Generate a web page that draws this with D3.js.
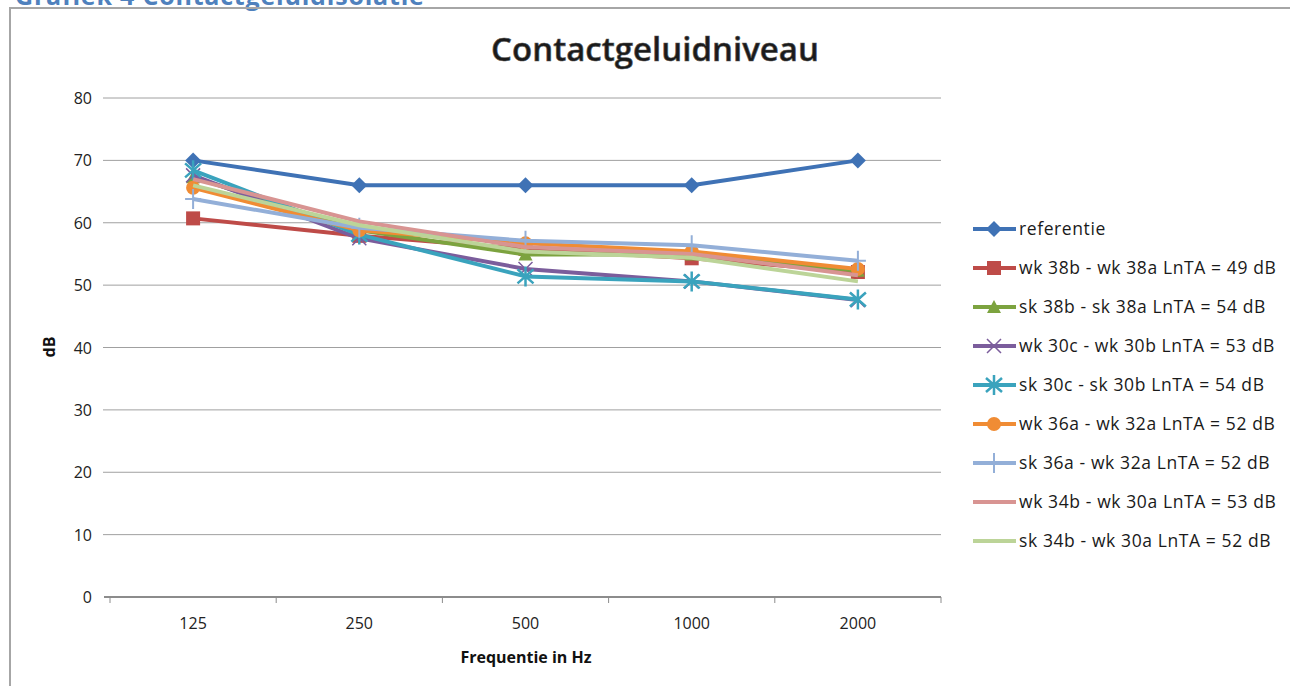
<!DOCTYPE html>
<html lang="nl">
<head>
  <meta charset="UTF-8" />
  <title>Contactgeluidniveau</title>
  <style>
    *{margin:0;padding:0;box-sizing:border-box}
    body{background:#fff;font-family:"Open Sans",sans-serif;width:1290px;height:686px;overflow:hidden}
    svg{display:block}
  </style>
</head>
<body>
  <svg id="chart" width="1290" height="686"></svg>

  <script src="https://d3js.org/d3.v7.min.js"></script>
  <script>
    // frequencies on the x axis
    const freqs = ['125','250','500','1000','2000'];
    const yTicks = [0,10,20,30,40,50,60,70,80];

    // one array per series
    const referentie = [70, 66, 66, 66, 70];
    const wk38 = [60.7, 57.9, 55.8, 54.3, 52.1];
    const sk38 = [67.3, 58.8, 54.9, 54.9, 52.3];
    const wk30c = [67.6, 57.5, 52.6, 50.6, 47.6];
    const sk30c = [68.4, 58.1, 51.4, 50.6, 47.7];
    const wk36 = [65.6, 58.8, 56.7, 55.4, 52.6];
    const sk36 = [63.8, 59.2, 57.1, 56.4, 53.9];
    const wk34 = [67.0, 60.2, 56.1, 55.0, 51.6];
    const sk34 = [66.0, 59.6, 55.4, 54.4, 50.6];

    const labels = [
      'referentie',
      'wk 38b - wk 38a LnTA = 49 dB',
      'sk 38b - sk 38a LnTA = 54 dB',
      'wk 30c - wk 30b LnTA = 53 dB',
      'sk 30c - sk 30b LnTA = 54 dB',
      'wk 36a - wk 32a LnTA = 52 dB',
      'sk 36a - wk 32a LnTA = 52 dB',
      'wk 34b - wk 30a LnTA = 53 dB',
      'sk 34b - wk 30a LnTA = 52 dB'
    ];
    const colors = ['#3f72b5','#be4b48','#7ca33f','#7b5d9c','#3aa3bd','#f08c34','#93afd8','#d89492','#bcd498'];
    const markers = ['diamond','square','triangle','x','star','circle','plus','none','none'];
    const seriesVals = [referentie, wk38, sk38, wk30c, sk30c, wk36, sk36, wk34, sk34];

    const series = labels.map((name,i)=>({name, color:colors[i], marker:markers[i], values:seriesVals[i]}));

    const svg = d3.select('#chart');

    // header, partly above the top of the page like in the scan
    svg.append('text').attr('x',15).attr('y',5)
      .attr('font-size',25).attr('font-weight',700).attr('fill','#4f81bd')
      .attr('letter-spacing',0.8)
      .text('Grafiek 4 Contactgeluidisolatie');

    // chart frame
    svg.append('rect').attr('x',10).attr('y',8).attr('width',1300).attr('height',700)
      .attr('fill','none').attr('stroke','#a6a6a6').attr('stroke-width',2);

    // plot area
    const pLeft=110, pRight=941, pTop=98, pBottom=597;
    const x = d3.scaleBand().domain(freqs).range([pLeft,pRight]);
    const y = d3.scaleLinear().domain([0,80]).range([pBottom,pTop]);
    const cx = f => x(f)+x.bandwidth()/2;

    svg.append('text').attr('x',655).attr('y',61).attr('text-anchor','middle')
      .attr('font-size',33).attr('font-weight',600).attr('fill','#1a1a1a')
      .attr('stroke','#555').attr('stroke-width',0.6)
      .text('Contactgeluidniveau');

    // gridlines
    svg.append('g').selectAll('line').data(yTicks.filter(d=>d>0)).join('line')
      .attr('x1',pLeft-7).attr('x2',pRight).attr('y1',d=>y(d)).attr('y2',d=>y(d))
      .attr('stroke','#a0a0a0').attr('stroke-width',1);

    // y axis labels
    svg.append('g').selectAll('text').data(yTicks).join('text')
      .attr('x',pLeft-18).attr('y',d=>y(d)+6).attr('text-anchor','end')
      .attr('font-size',16).attr('fill','#222').text(d=>d);

    // x axis
    const xAxis = svg.append('g').attr('transform',`translate(0,${pBottom})`);
    xAxis.append('line').attr('x1',pLeft-6).attr('x2',pRight).attr('stroke','#8c8c8c').attr('stroke-width',2);
    const tickX = freqs.map(f=>x(f)).concat([pRight]);
    xAxis.selectAll('.tk').data(tickX).join('line').attr('class','tk')
      .attr('x1',d=>d).attr('x2',d=>d).attr('y1',0).attr('y2',6)
      .attr('stroke','#8c8c8c');
    xAxis.selectAll('text').data(freqs).join('text')
      .attr('x',d=>cx(d)).attr('y',32).attr('text-anchor','middle')
      .attr('font-size',16).attr('fill','#222').text(d=>d);

    svg.append('text').attr('x',526).attr('y',663).attr('text-anchor','middle')
      .attr('font-size',16).attr('font-weight',700).attr('fill','#111')
      .text('Frequentie in Hz');
    svg.append('text').attr('transform','translate(55,347) rotate(-90)').attr('text-anchor','middle')
      .attr('font-size',16).attr('font-weight',700).attr('fill','#111').text('dB');

    function drawMarker(g, type, color, mx, my){
      const m = g.append('g').attr('transform',`translate(${mx},${my})`);
      if(type==='diamond') m.append('path').attr('d','M0,-8L8,0L0,8L-8,0Z').attr('fill',color);
      else if(type==='square') m.append('rect').attr('x',-7).attr('y',-7).attr('width',14).attr('height',14).attr('fill',color);
      else if(type==='triangle') m.append('path').attr('d','M0,-7L7,6L-7,6Z').attr('fill',color);
      else if(type==='circle') m.append('circle').attr('r',7).attr('fill',color);
      else if(type==='x') m.append('path').attr('d','M-7,-7L7,7M7,-7L-7,7').attr('stroke',color).attr('stroke-width',1.5);
      else if(type==='plus') m.append('path').attr('d','M0,-10V10M-8,0H8').attr('stroke',color).attr('stroke-width',2);
      else if(type==='star') m.append('path').attr('d','M-8,-7L8,7M8,-7L-8,7M0,-10V10').attr('stroke',color).attr('stroke-width',2.5);
    }

    const line = d3.line().x((d,i)=>cx(freqs[i])).y(d=>y(d));
    const plot = svg.append('g');
    series.forEach(s=>{
      plot.append('path').attr('d',line(s.values)).attr('fill','none')
        .attr('stroke',s.color).attr('stroke-width',4).attr('stroke-linejoin','round');
      s.values.forEach((v,i)=>drawMarker(plot,s.marker,s.color,cx(freqs[i]),y(v)));
    });

    // legend
    const lg = svg.append('g');
    series.forEach((s,i)=>{
      const ly = 229 + i*39;
      lg.append('line').attr('x1',973).attr('x2',1016).attr('y1',ly).attr('y2',ly)
        .attr('stroke',s.color).attr('stroke-width',4);
      drawMarker(lg,s.marker,s.color,994,ly);
      lg.append('text').attr('x',1019).attr('y',ly+6).attr('font-size',17.5)
        .attr('letter-spacing',0.6).attr('fill','#1a1a1a').text(s.name);
    });
  </script>
</body>
</html>
